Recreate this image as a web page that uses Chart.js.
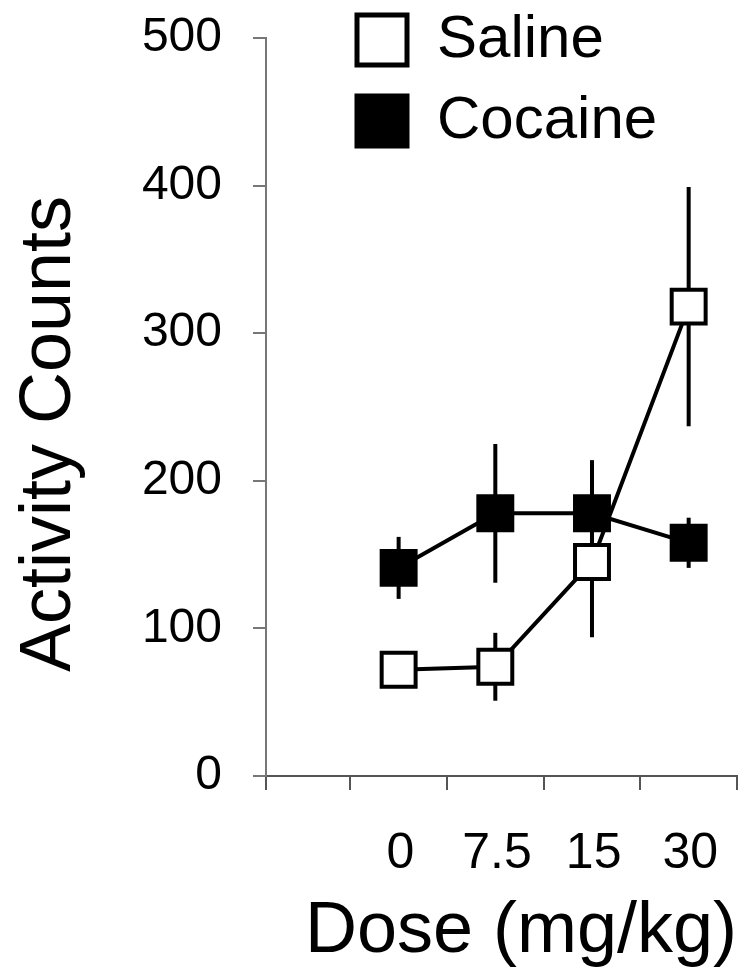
<!DOCTYPE html>
<html>
<head>
<meta charset="utf-8">
<title>Activity Counts by Dose</title>
<script src="https://cdn.jsdelivr.net/npm/chart.js@4.4.1/dist/chart.umd.min.js"></script>
<style>
  html, body { margin: 0; padding: 0; background: #fff; }
  #wrap { width: 739px; height: 979px; }
</style>
</head>
<body>
<div id="wrap"><canvas id="doseChart"></canvas></div>
<script>
// data
const doses = ['0', '7.5', '15', '30'];
const salineMean = [72, 74, 145, 318];
const salineErr = [8, 23, 51, 81];
const cocaineMean = [141, 178, 178, 158];
const cocaineErr = [21, 47, 36, 17];
const yTicks = [0, 100, 200, 300, 400, 500];

// dose i sits at x = i + 1, tick marks fall half-way between doses
const toPoints = arr => arr.map((v, i) => ({ x: i + 1, y: v }));

Chart.defaults.font.family = "'Liberation Sans', Arial, sans-serif";
Chart.defaults.color = '#000';

// vertical error bars, drawn under the markers
const errorBars = {
  id: 'errorBars',
  beforeDatasetsDraw(chart) {
    const ctx = chart.ctx;
    const yScale = chart.scales.y;
    chart.data.datasets.forEach((ds, di) => {
      const meta = chart.getDatasetMeta(di);
      ctx.save();
      ctx.strokeStyle = '#000';
      ctx.lineWidth = 4;
      meta.data.forEach((pt, i) => {
        const v = ds.data[i].y;
        const e = ds.errors[i];
        ctx.beginPath();
        ctx.moveTo(pt.x, yScale.getPixelForValue(v + e));
        ctx.lineTo(pt.x, yScale.getPixelForValue(v - e));
        ctx.stroke();
      });
      ctx.restore();
    });
  }
};

// put the legend block in the upper part of the plot, next to the axis,
// and drop the y title a little below the middle like the original
const placer = {
  id: 'placer',
  afterLayout(chart) {
    const lg = chart.legend;
    const pad = lg.options.labels.padding;
    lg.left = 357 - pad;
    lg.top = 10 - pad;

    const ys = chart.scales.y;
    if (!ys._titleShifted) {
      const orig = ys.drawTitle.bind(ys);
      ys.drawTitle = function() {
        chart.ctx.save();
        chart.ctx.translate(0, 27);
        orig();
        chart.ctx.restore();
      };
      ys._titleShifted = true;
    }
  }
};

new Chart(document.getElementById('doseChart'), {
  type: 'line',
  data: {
    datasets: [
      {
        label: 'Saline',
        data: toPoints(salineMean),
        errors: salineErr,
        borderColor: '#000',
        backgroundColor: '#fff',
        borderWidth: 4,
        pointStyle: 'rect',
        pointRadius: 24,
        pointBorderWidth: 4,
        pointBackgroundColor: '#fff',
        pointBorderColor: '#000'
      },
      {
        label: 'Cocaine',
        data: toPoints(cocaineMean),
        errors: cocaineErr,
        borderColor: '#000',
        backgroundColor: '#000',
        borderWidth: 4,
        pointStyle: 'rect',
        pointRadius: 24,
        pointBorderWidth: 4,
        pointBackgroundColor: '#000',
        pointBorderColor: '#000'
      }
    ]
  },
  options: {
    responsive: true,
    maintainAspectRatio: false,
    animation: false,
    layout: { autoPadding: false, padding: { top: 38, right: 2, bottom: 0, left: 0 } },
    plugins: {
      tooltip: { enabled: false },
      legend: {
        position: 'chartArea',
        align: 'start',
        labels: {
          boxWidth: 50,
          boxHeight: 50,
          padding: 21,
          color: '#000',
          font: { size: 60 },
          generateLabels(chart) {
            const items = Chart.defaults.plugins.legend.labels.generateLabels(chart);
            items.forEach(it => { it.lineWidth = 5; });
            return items;
          }
        }
      }
    },
    scales: {
      x: {
        type: 'linear',
        min: -0.372,
        max: doses.length + 0.5,
        afterBuildTicks(scale) {
          const t = [{ value: scale.min }];
          doses.forEach((d, i) => t.push({ value: i + 0.5 }));
          t.push({ value: doses.length + 0.5 });
          scale.ticks = t;
        },
        // tick padding counts twice in fit(); pin the band size instead
        afterFit(scale) {
          scale.paddingLeft = 0;
          scale.paddingRight = 0;
          scale.height = 203;
        },
        ticks: {
          autoSkip: false,
          maxRotation: 0,
          padding: 34,
          labelOffset: 50,
          color: '#000',
          font: { size: 50 },
          callback(value) {
            const i = value - 0.5;
            return Number.isInteger(i) && i >= 0 && i < doses.length ? doses[i] : '';
          }
        },
        grid: {
          drawOnChartArea: false,
          drawTicks: true,
          tickLength: 14,
          tickColor: '#555',
          lineWidth: 2
        },
        border: { color: '#555', width: 2 },
        title: {
          display: true,
          text: 'Dose (mg/kg)',
          align: 'end',
          color: '#000',
          font: { size: 72 },
          padding: { top: 5, bottom: 4 }
        }
      },
      y: {
        min: 0,
        max: 500,
        afterBuildTicks(scale) {
          scale.ticks = yTicks.map(v => ({ value: v }));
        },
        afterFit(scale) {
          scale.paddingTop = 0;
          scale.paddingBottom = 0;
          scale.width = 266;
        },
        ticks: {
          padding: 31,
          color: '#000',
          font: { size: 48 }
        },
        grid: {
          drawOnChartArea: false,
          drawTicks: true,
          tickLength: 13,
          tickColor: '#777',
          lineWidth: 2
        },
        border: { color: '#777', width: 2 },
        title: {
          display: true,
          text: 'Activity Counts',
          color: '#000',
          font: { size: 72 },
          padding: { top: 7, bottom: 4 }
        }
      }
    }
  },
  plugins: [errorBars, placer]
});
</script>
</body>
</html>
